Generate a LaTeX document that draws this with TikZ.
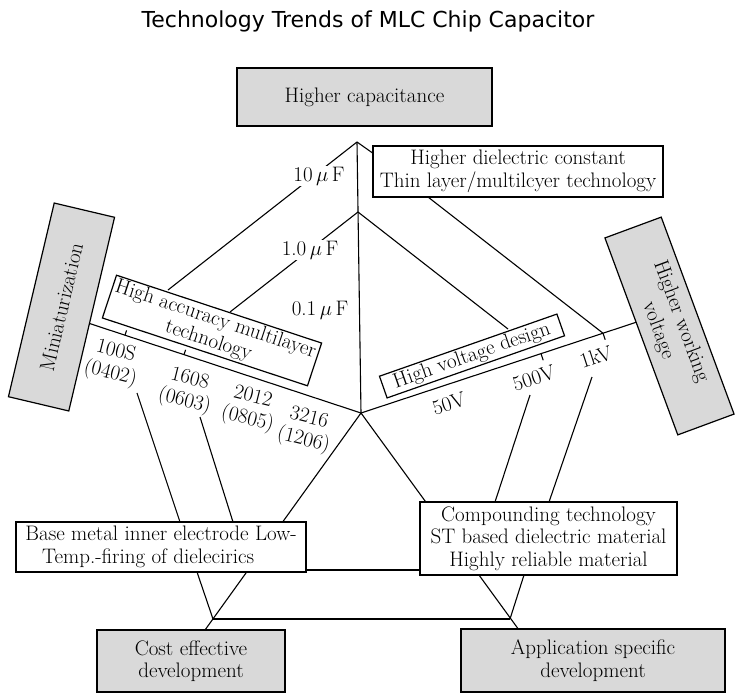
\documentclass[tikz,border=0pt]{standalone}
\usepackage{fontspec}
\newfontfamily\titlefont{DejaVu Sans}
\pgfdeclarelayer{bg}
\pgfsetlayers{bg,main}
\begin{document}
\begin{tikzpicture}[x=1pt,y=-1pt,
  txt/.style={font=\fontsize{21}{22.5}\selectfont},
  gbox/.style={txt,draw,line width=1.2pt,fill=black!15,align=center,inner sep=0pt},
  wbox/.style={txt,draw,line width=1.2pt,fill=white,align=center,inner sep=0pt},
  ln/.style={line width=1.1pt},
  lbl/.style={txt,inner sep=1pt,align=center},
  wlbl/.style={lbl,fill=white}]
\useasboundingbox (0,0) rectangle (737,693);
% title
\node[font=\titlefont\fontsize{22}{24}\selectfont] (title) at (368,21) {Technology Trends of MLC Chip Capacitor};
% boxes
\node[gbox, minimum width=255, minimum height=58] (hc) at (364.5,97) {Higher capacitance};
\node[wbox, minimum width=290, minimum height=51] (hd) at (518,171.5) {Higher dielectric constant\\Thin layer/multilcyer technology};
\node[gbox, rotate=76.7, minimum width=199, minimum height=62] (mini) at (61.5,307) {Miniaturization};
\node[gbox, rotate=-69.7, minimum width=210, minimum height=60] (hwv) at (669.5,326) {Higher working\\[2pt]voltage};
\node[wbox, rotate=-18.3, minimum width=216, minimum height=45] (hat) at (212,330.5) {High accuracy multilayer\\technology};
\node[wbox, rotate=19.3, minimum width=188, minimum height=23] (hvd) at (472,356) {High voltage design};
\node[wbox, minimum width=290, minimum height=50, align=left] (bm) at (161,547) {Base metal inner electrode Low-\\\hspace{0.8em}Temp.-firing of dielecirics};
\node[wbox, minimum width=257, minimum height=73] (cp) at (548.5,538.5) {Compounding technology\\ST based dielectric material\\Highly reliable material};
\node[gbox, minimum width=188, minimum height=62] (ce) at (191,661) {Cost effective\\development};
\node[gbox, minimum width=264, minimum height=63] (as) at (593,660.5) {Application specific\\development};
% labels
\node[wlbl] (l10) at (319,176) {10\,$\mu$\,F};
\node[wlbl] (l1) at (310,250) {1.0\,$\mu$\,F};
\node[lbl] (l01) at (320,310) {0.1\,$\mu$\,F};
\node[lbl, rotate=-14] (s100) at (113,363) {100S\\(0402)};
\node[lbl, rotate=-14] (s1608) at (187,391) {1608\\(0603)};
\node[lbl, rotate=-14] (s2012) at (250,409) {2012\\(0805)};
\node[lbl, rotate=-14] (s3216) at (306,430) {3216\\(1206)};
\node[lbl, rotate=18] (v50) at (449,404) {50V};
\node[lbl, rotate=18] (v500) at (534,378) {500V};
\node[lbl, rotate=18] (v1k) at (596,357) {1kV};
% coordinates
\coordinate (C) at (361,413);
\coordinate (tA) at (357,142);
\coordinate (tB) at (358,212);
\coordinate (L) at (88,323);
\coordinate (R) at (637,322);
\coordinate (LL) at (205,630);
\coordinate (LR) at (519,630);
\coordinate (TL) at (213,619);
\coordinate (TR) at (510,619);
\coordinate (hdL) at (374,154);
\coordinate (hdB) at (428,197);
\coordinate (hat1) at (168,290);
\coordinate (hat2) at (230,312);
\coordinate (hvdT) at (508,329);
\coordinate (k1) at (603,333.2);
\coordinate (k500) at (541,353.7);
\coordinate (m100) at (125,335.2);
\coordinate (m1608) at (184,354.6);
\coordinate (a100) at (137,393);
\coordinate (b100) at (180,522);
\coordinate (a1608) at (200,417);
\coordinate (b1608) at (233,522);
\coordinate (a500) at (530,395);
\coordinate (b500) at (495,502);
\coordinate (a1k) at (592,377);
\coordinate (b1k) at (549,502);
\coordinate (bmB) at (197,572);
\coordinate (cpB) at (524,575);
\coordinate (bmR) at (306,570);
\coordinate (cpL) at (420,570);
\begin{pgfonlayer}{bg}
\draw[ln] (C) -- (tA);
\draw[ln] (C) -- (L);
\draw[ln] (C) -- (R);
\draw[ln] (C) -- (LL);
\draw[ln] (C) -- (LR);
\draw[ln] (tA) -- (hdL);
\draw[ln] (tA) -- (hat1);
\draw[ln] (tB) -- (hat2);
\draw[ln] (tB) -- (hvdT);
\draw[ln] (hdB) -- (k1);
\draw[ln] (k1) -- ++(2.2,6.6);
\draw[ln] (k500) -- ++(2.2,6.6);
\draw[ln] (m100) -- ++(1.6,-4.8);
\draw[ln] (m1608) -- ++(1.6,-4.8);
\draw[ln] (a100) -- (b100);
\draw[ln] (a1608) -- (b1608);
\draw[ln] (a500) -- (b500);
\draw[ln] (a1k) -- (b1k);
\draw[ln] (bmB) -- (TL);
\draw[ln] (cpB) -- (TR);
\draw[ln] (TL) -- (TR);
\draw[ln] (bmR) -- (cpL);
\end{pgfonlayer}
\end{tikzpicture}
\end{document}
